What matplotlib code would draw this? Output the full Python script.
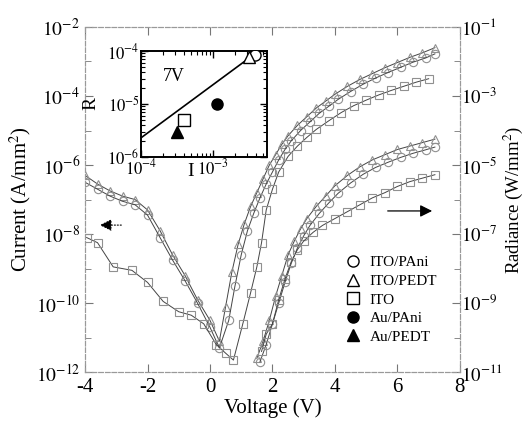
import numpy as np
import matplotlib
matplotlib.use("Agg")
import matplotlib.pyplot as plt
from matplotlib.ticker import FixedLocator, NullFormatter, LogLocator
from matplotlib.lines import Line2D

plt.rcParams['font.family'] = ['Liberation Serif', 'DejaVu Serif']
plt.rcParams['mathtext.fontset'] = 'stix'

# ---------------- data (log10 values) ----------------
# Current density (A/mm^2), left axis
v_cur_pedt = [-4.0, -3.6, -3.2, -2.8, -2.4, -2.0, -1.6, -1.2, -0.8, -0.4, 0.0, 0.3, 0.5, 0.7, 0.9,
              1.1, 1.3, 1.5, 1.7, 1.9, 2.1, 2.3, 2.5, 2.8, 3.1, 3.4, 3.7, 4.0, 4.4, 4.8, 5.2, 5.6,
              6.0, 6.4, 6.8, 7.2]
logI_pedt = [-6.3, -6.55, -6.75, -6.9, -7.0, -7.3, -7.9, -8.6, -9.2, -9.9, -10.5, -11.1, -10.1, -9.1, -8.3,
             -7.7, -7.2, -6.8, -6.4, -6.0, -5.7, -5.4, -5.15, -4.85, -4.6, -4.35, -4.15, -3.95, -3.72, -3.52, -3.35, -3.18,
             -3.03, -2.88, -2.75, -2.6]

v_cur_pani = [-4.0, -3.6, -3.2, -2.8, -2.4, -2.0, -1.6, -1.2, -0.8, -0.4, 0.0, 0.3, 0.6, 0.8, 1.0,
              1.2, 1.4, 1.6, 1.8, 2.0, 2.2, 2.4, 2.6, 2.9, 3.2, 3.5, 3.8, 4.1, 4.5, 4.9, 5.3, 5.7,
              6.1, 6.5, 6.9, 7.2]
logI_pani = [-6.5, -6.7, -6.9, -7.05, -7.15, -7.45, -8.1, -8.75, -9.35, -10.0, -10.7, -11.3, -10.5, -9.5, -8.6,
             -7.9, -7.4, -6.95, -6.55, -6.2, -5.85, -5.55, -5.3, -5.0, -4.75, -4.5, -4.3, -4.1, -3.87, -3.66, -3.48, -3.32,
             -3.17, -3.02, -2.9, -2.78]

v_cur_ito = [-3.95, -3.6, -3.1, -2.5, -2.0, -1.5, -1.0, -0.6, -0.2, 0.2, 0.5, 0.75, 1.05, 1.3, 1.5,
             1.65, 1.8, 2.0, 2.2, 2.5, 2.8, 3.1, 3.4, 3.8, 4.2, 4.6, 5.0, 5.4, 5.8, 6.2, 6.6, 7.0]
logI_ito = [-8.1, -8.25, -8.95, -9.05, -9.4, -9.95, -10.25, -10.35, -10.6, -11.2, -11.45, -11.65, -10.6, -9.7, -8.95,
            -8.25, -7.3, -6.7, -6.2, -5.75, -5.45, -5.2, -4.97, -4.72, -4.48, -4.28, -4.12, -3.97, -3.84, -3.72, -3.6, -3.5]

# Radiance (W/mm^2), right axis
v_rad_pedt = [1.5, 1.7, 1.9, 2.1, 2.3, 2.5, 2.7, 2.9, 3.1, 3.4, 3.7, 4.0, 4.4, 4.8, 5.2, 5.6, 6.0, 6.4, 6.8, 7.2]
logR_pedt = [-10.6, -10.1, -9.5, -8.8, -8.2, -7.6, -7.2, -6.85, -6.55, -6.2, -5.9, -5.6, -5.3, -5.05, -4.85, -4.7,
             -4.55, -4.45, -4.35, -4.25]

v_rad_pani = [1.6, 1.8, 2.0, 2.2, 2.4, 2.6, 2.8, 3.0, 3.2, 3.5, 3.8, 4.1, 4.5, 4.9, 5.3, 5.7, 6.1, 6.5, 6.9, 7.2]
logR_pani = [-10.7, -10.2, -9.6, -9.0, -8.4, -7.85, -7.4, -7.05, -6.75, -6.4, -6.1, -5.82, -5.52, -5.27, -5.07, -4.92,
             -4.78, -4.66, -4.56, -4.48]

v_rad_ito = [1.65, 1.8, 2.0, 2.2, 2.4, 2.6, 2.8, 3.0, 3.3, 3.6, 4.0, 4.4, 4.8, 5.2, 5.6, 6.0, 6.4, 6.8, 7.2]
logR_ito = [-10.4, -9.9, -9.6, -8.9, -8.3, -7.8, -7.45, -7.2, -6.95, -6.75, -6.55, -6.35, -6.15, -5.95, -5.8, -5.62,
            -5.48, -5.38, -5.28]

# Inset: radiance R vs current I at 7 V
inset_labels = ['ITO/PAni', 'ITO/PEDT', 'ITO', 'Au/PAni', 'Au/PEDT']
inset_I = [3.8e-3, 3.2e-3, 4.0e-4, 1.15e-3, 3.2e-4]
inset_R = [8.4e-5, 7.7e-5, 5.0e-6, 1.0e-5, 3.0e-6]
fit_I = [1.0e-4, 4.3e-3]
fit_R = [2.3e-6, 1.0e-4]

markers = ['o', '^', 's', 'o', '^']
filled = [False, False, False, True, True]

# ---------------- figure ----------------
fig = plt.figure(figsize=(5.25, 4.21), dpi=100)
ax = fig.add_axes([0.162, 0.116, 0.714, 0.820])
ax2 = ax.twinx()

gray = '#909090'
lcol = '#444444'

def series(axis, v, logy, mk, ms=6):
    axis.plot(v, 10 ** np.array(logy), color=lcol, lw=0.7, marker=mk, ms=ms,
              mfc='none', mec=gray, mew=0.8, zorder=2)

series(ax, v_cur_pedt, logI_pedt, '^')
series(ax, v_cur_pani, logI_pani, 'o')
series(ax, v_cur_ito, logI_ito, 's')
series(ax2, v_rad_pedt, logR_pedt, '^')
series(ax2, v_rad_pani, logR_pani, 'o')
series(ax2, v_rad_ito, logR_ito, 's')

ax.set_xlim(-4, 8)
ax.set_yscale('log')
ax.set_ylim(1e-12, 1e-2)
ax2.set_yscale('log')
ax2.set_ylim(1e-11, 1e-1)
ax.set_xticks([-4, -2, 0, 2, 4, 6, 8])
ax.set_xticklabels(['-4', '-2', '0', '2', '4', '6', '8'])

ax.yaxis.set_major_locator(FixedLocator([1e-12, 1e-10, 1e-8, 1e-6, 1e-4, 1e-2]))
ax.yaxis.set_minor_locator(FixedLocator([1e-11, 1e-9, 1e-7, 1e-5, 1e-3]))
ax.yaxis.set_minor_formatter(NullFormatter())
ax.set_yticklabels([r'$10^{-12}$', r'$10^{-10}$', r'$10^{-8}$', r'$10^{-6}$', r'$10^{-4}$', r'$10^{-2}$'])
ax2.yaxis.set_major_locator(FixedLocator([1e-11, 1e-9, 1e-7, 1e-5, 1e-3, 1e-1]))
ax2.yaxis.set_minor_locator(FixedLocator([1e-10, 1e-8, 1e-6, 1e-4, 1e-2]))
ax2.yaxis.set_minor_formatter(NullFormatter())
ax2.set_yticklabels([r'$10^{-11}$', r'$10^{-9}$', r'$10^{-7}$', r'$10^{-5}$', r'$10^{-3}$', r'$10^{-1}$'])

for a in (ax, ax2):
    a.tick_params(which='both', direction='in', labelsize=14, color='#777')
    a.tick_params(which='major', length=6)
    a.tick_params(which='minor', length=4)
    for s in a.spines.values():
        s.set_color('#999')
        s.set_linewidth(0.8)
        s.set_linestyle((0, (4, 2)))
ax.tick_params(axis='x', top=True, pad=4, labelsize=15)
ax2.tick_params(axis='y', pad=1, labelsize=13.5)

ax.set_xlabel('Voltage (V)', fontsize=15, labelpad=1)
ax.set_ylabel(r'Current (A/mm$^2$)', fontsize=15, labelpad=2)
ax2.set_ylabel(r'Radiance (W/mm$^2$)', fontsize=13.5)
ax2.yaxis.set_label_coords(1.112, 0.5, transform=ax2.transAxes)

# arrows
ax.annotate('', xy=(-3.62, 10 ** -7.74), xytext=(-2.75, 10 ** -7.74),
            arrowprops=dict(arrowstyle='-|>', color='black', lw=0.8, ls=':', mutation_scale=18))
ax.annotate('', xy=(7.2, 10 ** -7.33), xytext=(5.6, 10 ** -7.33),
            arrowprops=dict(arrowstyle='-|>', color='black', lw=0.9, mutation_scale=18))

# legend
handles = [Line2D([], [], ls='none', marker=m, ms=8, mfc=('black' if f else 'none'),
                  mec='black', mew=1.0) for m, f in zip(markers, filled)]
ax.legend(handles, inset_labels, loc='center left', bbox_to_anchor=(0.665, 0.21),
          frameon=False, fontsize=11, handletextpad=0.6, labelspacing=0.32,
          handlelength=1.0, borderpad=0.2)

# inset
axi = fig.add_axes([0.2686, 0.627, 0.24, 0.252])
axi.set_xscale('log')
axi.set_yscale('log')
axi.set_xlim(1e-4, 5.6e-3)
axi.set_ylim(1e-6, 1e-4)
axi.plot(fit_I, fit_R, color='black', lw=1.2, zorder=2)
for xi, yi, m, f in zip(inset_I, inset_R, markers, filled):
    axi.plot([xi], [yi], ls='none', marker=m, ms=8, mfc=('black' if f else 'white'),
             mec='black', mew=1.0, zorder=3)
axi.xaxis.set_major_locator(FixedLocator([1e-4, 1e-3]))
axi.yaxis.set_major_locator(FixedLocator([1e-6, 1e-5, 1e-4]))
axi.xaxis.set_minor_locator(LogLocator(base=10, subs=np.arange(2, 10)))
axi.yaxis.set_minor_locator(LogLocator(base=10, subs=np.arange(2, 10)))
axi.xaxis.set_minor_formatter(NullFormatter())
axi.yaxis.set_minor_formatter(NullFormatter())
axi.set_xticklabels([r'$10^{-4}$', r'$10^{-3}$'])
axi.set_yticklabels([r'$10^{-6}$', r'$10^{-5}$', r'$10^{-4}$'])
axi.tick_params(which='both', direction='in', top=True, right=True, labelsize=12, pad=1)
axi.tick_params(which='major', length=5, width=1.0)
axi.tick_params(which='minor', length=3, width=0.8)
for s in axi.spines.values():
    s.set_linewidth(1.4)
axi.set_xlabel('I', fontsize=14)
axi.xaxis.set_label_coords(0.39, -0.06, transform=axi.transAxes)
axi.xaxis.label.set_va('top')
axi.set_ylabel('R', fontsize=14)
axi.yaxis.set_label_coords(-0.33, 0.5, transform=axi.transAxes)
axi.text(0.17, 0.72, '7V', transform=axi.transAxes, fontsize=13)

fig.savefig('out.png', dpi=100)
